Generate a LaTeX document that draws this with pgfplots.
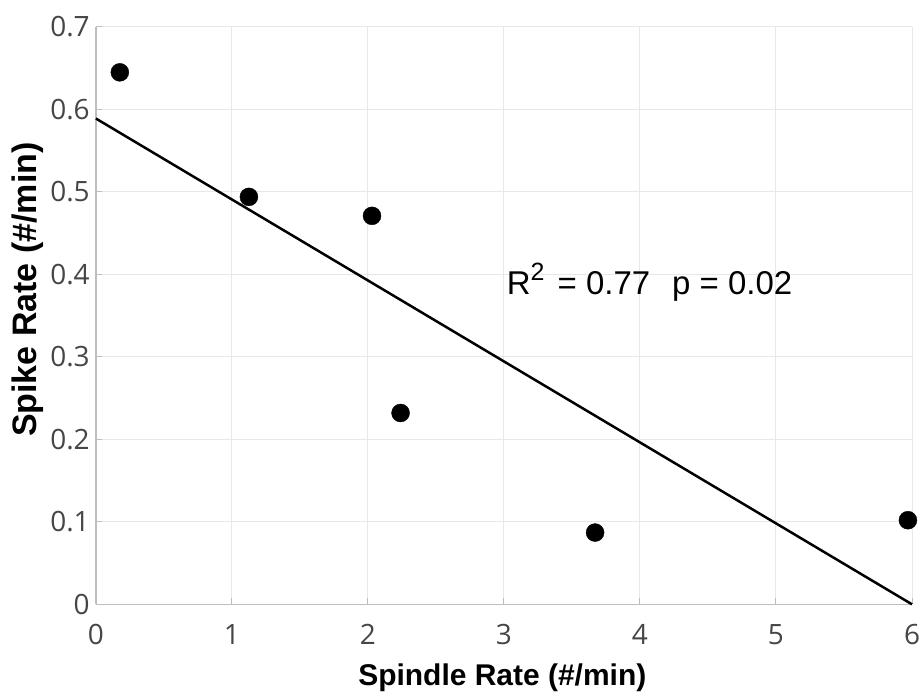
\documentclass[border=0pt]{standalone}
\usepackage{pgfplots}
\pgfplotsset{compat=1.18}
\usepackage{fontspec}
\setmainfont{Liberation Sans}
\newfontfamily\tickfont{Open Sans}
\definecolor{tickgray}{RGB}{70,70,70}
\definecolor{axgray}{RGB}{190,190,190}
\definecolor{gridgray}{RGB}{232,232,232}
\begin{document}
\begin{tikzpicture}
\begin{axis}[
  scale only axis, width=817bp, height=578bp,
  xmin=0, xmax=6, ymin=0, ymax=0.7,
  xtick={0,1,2,3,4,5,6},
  ytick={0,0.1,0.2,0.3,0.4,0.5,0.6,0.7},
  axis lines=left,
  axis line style={draw=axgray, line width=1.5bp, -},
  grid=major,
  major grid style={draw=gridgray, line width=1bp},
  tick style={draw=axgray, line width=1bp},
  major tick length=6bp,
  tick align=inside,
  /pgf/number format/assume math mode=true,
  /pgf/number format/fixed,
  ticklabel style={font=\tickfont\fontsize{28bp}{32bp}\selectfont, text=tickgray},
  yticklabel style={inner sep=0pt, anchor=east, xshift=-6bp},
  xticklabel style={inner sep=0pt, anchor=north, yshift=-20bp},
  xlabel={\bfseries Spindle Rate (\#/min)},
  ylabel={\bfseries Spike Rate (\#/min)},
  xlabel style={font=\fontsize{30bp}{36bp}\selectfont, at={(axis description cs:0.498,-0.1280)}, anchor=center},
  ylabel style={font=\fontsize{34bp}{40bp}\selectfont, at={(axis description cs:-0.0832,0.545)}, anchor=center},
  clip=false,
]
\addplot[black, line width=2.5bp, no marks] coordinates {(0,0.589) (6,0)};
\addplot[only marks, mark=*, mark size=9bp, mark options={fill=black, draw=black}] coordinates {
  (0.176,0.645)
  (1.125,0.494)
  (2.03,0.471)
  (2.24,0.232)
  (3.67,0.087)
  (5.97,0.102)
};
\node[anchor=base west, inner sep=0pt, font=\fontsize{33bp}{40bp}\selectfont] at (axis cs:3.02,0.3755) {R\raisebox{14bp}{\fontsize{25bp}{25bp}\selectfont 2}\hspace{4bp} = 0.77\hspace{22bp}p = 0.02};
\end{axis}
\path (current axis.south west) ++(-96bp,-92bp);
\path (current axis.north east) ++(7bp,27bp);
\end{tikzpicture}
\end{document}
